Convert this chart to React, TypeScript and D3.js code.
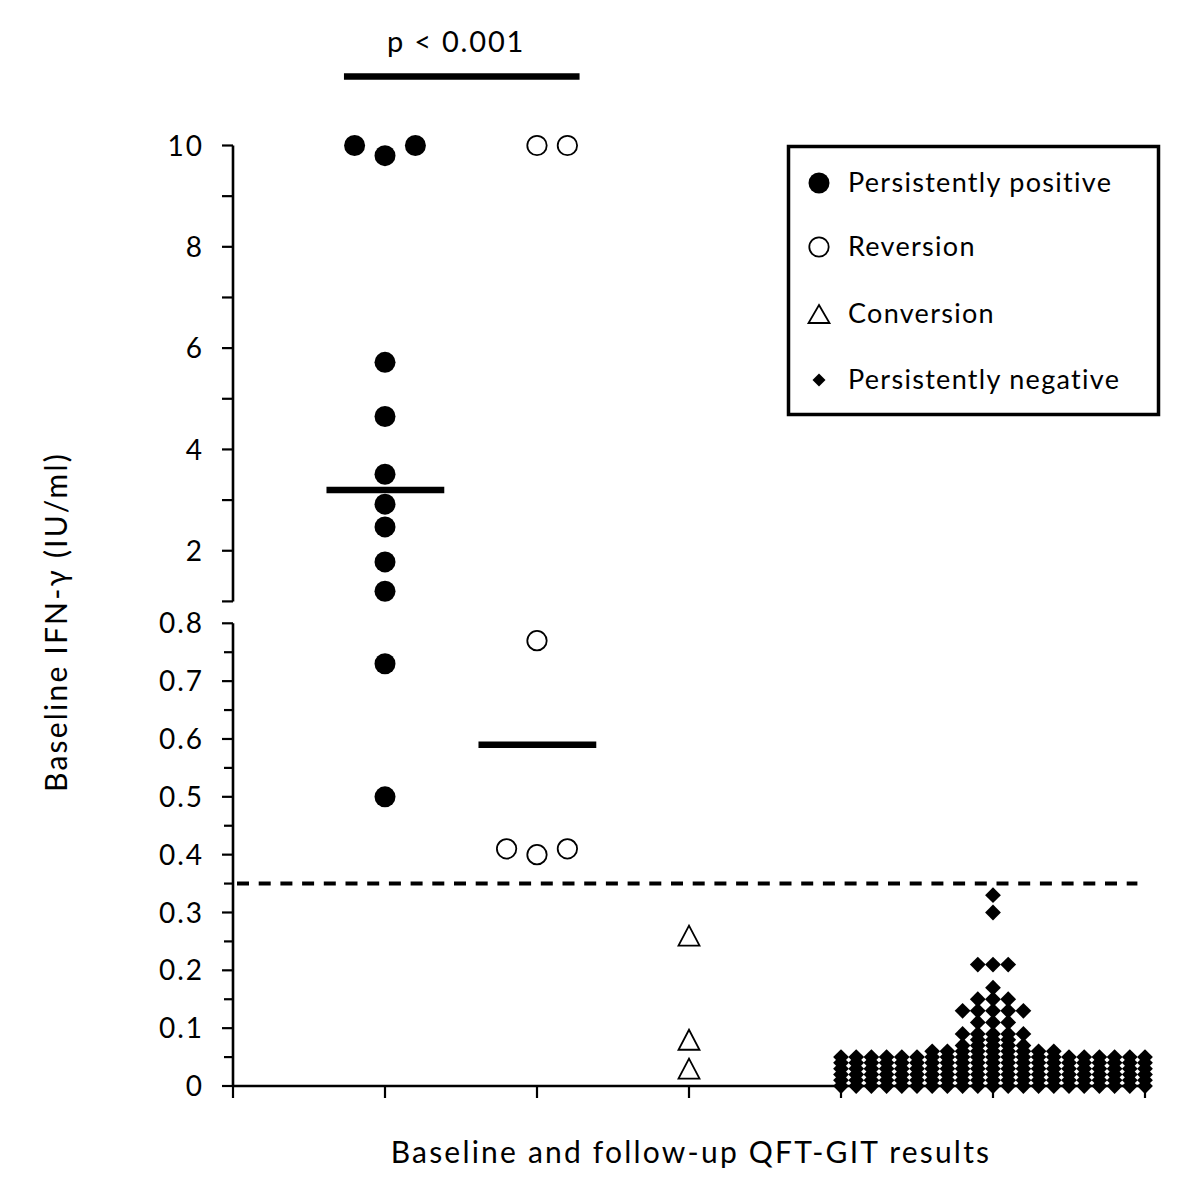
import React from "react";
import * as d3 from "d3";

// ---------- data ----------
const groupPositions = { positive: 1, reversion: 2, conversion: 3, negative: 5 };

const persistentlyPositive = [10, 9.8, 10, 5.72, 4.65, 3.51, 2.92, 2.47, 1.78, 1.2, 0.73, 0.5];
const reversion = [10, 10, 0.77, 0.41, 0.4, 0.41];
const conversion = [0.26, 0.08, 0.03];
// persistently negative: [value, number of subjects at that value]
const persistentlyNegativeCounts: [number, number][] = [
  [0.0, 21], [0.01, 21], [0.02, 21], [0.03, 21], [0.04, 21], [0.05, 21],
  [0.06, 9], [0.07, 5], [0.08, 3], [0.09, 5], [0.11, 3], [0.13, 5],
  [0.15, 3], [0.17, 1], [0.21, 3], [0.3, 1], [0.33, 1],
];
const medians = [
  { group: "positive", value: 3.2 },
  { group: "reversion", value: 0.59 },
];
const cutoff = 0.35;
const upperTicks = [1, 2, 3, 4, 5, 6, 7, 8, 9, 10];
const upperLabels = [2, 4, 6, 8, 10];
const lowerTicks = [0, 0.05, 0.1, 0.15, 0.2, 0.25, 0.3, 0.35, 0.4, 0.45, 0.5, 0.55, 0.6, 0.65, 0.7, 0.75, 0.8];
const lowerLabels = [0, 0.1, 0.2, 0.3, 0.4, 0.5, 0.6, 0.7, 0.8];
const xTicks = [0, 1, 2, 3, 4, 5, 6];
const pValueText = "p < 0.001";
const pBracket = { from: 0.73, to: 2.28 };
const legendItems = [
  { label: "Persistently positive", symbol: "filled" },
  { label: "Reversion", symbol: "open" },
  { label: "Conversion", symbol: "triangle" },
  { label: "Persistently negative", symbol: "diamond" },
];
const yAxisTitle = "Baseline IFN-\u03B3 (IU/ml)";
const xAxisTitle = "Baseline and follow-up QFT-GIT results";

// ---------- scales ----------
const FONT = "Lato, 'Open Sans', sans-serif";
const x = d3.scaleLinear().domain([0, 6]).range([233, 1145]);
const yUpper = d3.scaleLinear().domain([1, 10]).range([601.4, 145.5]);
const yLower = d3.scaleLinear().domain([0, 0.8]).range([1086, 623.3]);
const y = (v: number) => (v <= 0.8 ? yLower(v) : yUpper(v));

type Placed = { v: number; cx: number; cy: number };

function layoutGroup(values: number[], center: number, step: number, minDist: number): Placed[] {
  const sorted = [...values].sort((a, b) => a - b);
  const placed: { v: number; off: number; cy: number }[] = [];
  for (const v of sorted) {
    const cy = y(v);
    let k = 0;
    for (;;) {
      const off = k === 0 ? 0 : k % 2 === 1 ? (k + 1) / 2 : -(k / 2);
      const clash = placed.some((p) => p.off === off && Math.abs(p.cy - cy) < minDist);
      if (!clash) {
        placed.push({ v, off, cy });
        break;
      }
      k++;
    }
  }
  return placed.map((p) => ({ v: p.v, cx: x(center + p.off * step), cy: p.cy }));
}

const negValues: number[] = [];
persistentlyNegativeCounts.forEach(([v, n]) => {
  for (let i = 0; i < n; i++) negValues.push(v);
});

const posPts = layoutGroup(persistentlyPositive, groupPositions.positive, 0.2, 18);
const revPts = layoutGroup(reversion, groupPositions.reversion, 0.2, 18);
const convPts = layoutGroup(conversion, groupPositions.conversion, 0.2, 18);
const negPts = layoutGroup(negValues, groupPositions.negative, 0.1, 3);

const R = 10.5;
const triPath = (cx: number, cy: number, w = 21, h = 20) =>
  `M${cx},${cy - h / 2}L${cx + w / 2},${cy + h / 2}L${cx - w / 2},${cy + h / 2}Z`;
const diaPath = (cx: number, cy: number, s = 7.9) =>
  `M${cx},${cy - s}L${cx + s},${cy}L${cx},${cy + s}L${cx - s},${cy}Z`;

export default function App() {
  const axisW = 2.6;
  const legendX = 788.5, legendY = 146.5, legendW = 370, legendH = 268;
  const legendRows = [183, 247, 314, 380];
  return (
    <svg width={1200} height={1201} style={{ position: "absolute", left: 0, top: 0, background: "#fff" }}
      fontFamily={FONT}>
      <rect x={0} y={0} width={1200} height={1201} fill="#fff" />
      {/* y axis upper */}
      <line x1={x(0)} x2={x(0)} y1={yUpper(10)} y2={yUpper(1)} stroke="#000" strokeWidth={axisW} />
      {upperTicks.map((t) => (
        <line key={"ut" + t} x1={x(0) - 11} x2={x(0)} y1={yUpper(t)} y2={yUpper(t)} stroke="#000" strokeWidth={2.2} />
      ))}
      {upperLabels.map((t) => (
        <text key={"ul" + t} x={204} y={yUpper(t)} dy="0.36em" textAnchor="end" fontSize={28} letterSpacing={2}>{t}</text>
      ))}
      {/* y axis lower */}
      <line x1={x(0)} x2={x(0)} y1={yLower(0.8)} y2={yLower(0)} stroke="#000" strokeWidth={axisW} />
      {lowerTicks.map((t) => (
        <line key={"lt" + t} x1={x(0) - (Math.round(t * 100) % 10 === 0 ? 11 : 9)} x2={x(0)} y1={yLower(t)} y2={yLower(t)} stroke="#000" strokeWidth={2.2} />
      ))}
      {lowerLabels.map((t) => (
        <text key={"ll" + t} x={204} y={yLower(t)} dy="0.36em" textAnchor="end" fontSize={28} letterSpacing={2}>{t === 0 ? "0" : t.toFixed(1)}</text>
      ))}
      {/* x axis */}
      <line x1={x(0) - 1} x2={x(6)} y1={yLower(0)} y2={yLower(0)} stroke="#000" strokeWidth={axisW} />
      {xTicks.map((t) => (
        <line key={"xt" + t} x1={x(t)} x2={x(t)} y1={yLower(0)} y2={yLower(0) + 12} stroke="#000" strokeWidth={2.2} />
      ))}
      {/* cutoff */}
      <line x1={x(0) + 4} x2={x(5.95)} y1={y(cutoff)} y2={y(cutoff)} stroke="#000" strokeWidth={4} strokeDasharray="12 9.7" />
      {/* medians */}
      {medians.map((m) => {
        const c = groupPositions[m.group as keyof typeof groupPositions];
        return (
          <line key={"m" + m.group} x1={x(c - 0.385)} x2={x(c + 0.39)} y1={y(m.value)} y2={y(m.value)} stroke="#000" strokeWidth={6.5} />
        );
      })}
      {/* p-value bracket */}
      <line x1={x(pBracket.from)} x2={x(pBracket.to)} y1={76.5} y2={76.5} stroke="#000" strokeWidth={6.5} />
      <text x={456} y={52} textAnchor="middle" fontSize={29} letterSpacing={1.8}>{pValueText}</text>
      {/* points */}
      {negPts.map((p, i) => (
        <path key={"n" + i} d={diaPath(p.cx, p.cy)} fill="#000" />
      ))}
      {posPts.map((p, i) => (
        <circle key={"p" + i} cx={p.cx} cy={p.cy} r={R} fill="#000" />
      ))}
      {revPts.map((p, i) => (
        <circle key={"r" + i} cx={p.cx} cy={p.cy} r={R - 0.8} fill="#fff" stroke="#000" strokeWidth={1.8} />
      ))}
      {convPts.map((p, i) => (
        <path key={"c" + i} d={triPath(p.cx, p.cy)} fill="#fff" stroke="#000" strokeWidth={1.8} />
      ))}
      {/* legend */}
      <rect x={legendX} y={legendY} width={legendW} height={legendH} fill="#fff" stroke="#000" strokeWidth={3.5} />
      {legendItems.map((it, i) => {
        const cy = legendRows[i];
        const cx = 819;
        let sym;
        if (it.symbol === "filled") sym = <circle cx={cx} cy={cy} r={R} fill="#000" />;
        else if (it.symbol === "open") sym = <circle cx={cx} cy={cy} r={R - 0.8} fill="#fff" stroke="#000" strokeWidth={1.8} />;
        else if (it.symbol === "triangle") sym = <path d={triPath(cx, cy, 21, 18)} fill="#fff" stroke="#000" strokeWidth={1.8} />;
        else sym = <path d={diaPath(cx, cy, 6.5)} fill="#000" />;
        return (
          <g key={it.label}>
            {sym}
            <text x={848} y={cy + 9} fontSize={27} letterSpacing={1.3}>{it.label}</text>
          </g>
        );
      })}
      {/* axis titles */}
      <text transform={`translate(56,622) rotate(-90)`} textAnchor="middle" dy="0.35em" fontSize={30} letterSpacing={2.2}>{yAxisTitle}</text>
      <text x={691} y={1163} textAnchor="middle" fontSize={30} letterSpacing={2.2}>{xAxisTitle}</text>
    </svg>
  );
}
